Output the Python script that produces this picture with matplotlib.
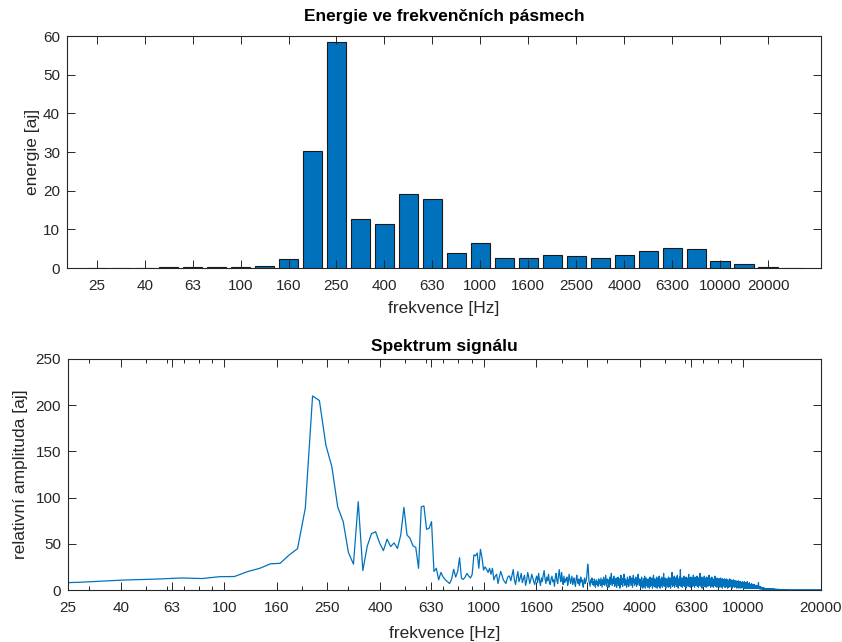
import numpy as np
import matplotlib
matplotlib.use("Agg")
import matplotlib.pyplot as plt
from matplotlib.ticker import FixedLocator, FixedFormatter, LogLocator, NullFormatter

# ---------------- data: energy in 1/3-octave bands ----------------
band_centers = [25, 31.5, 40, 50, 63, 80, 100, 125, 160, 200, 250, 315, 400, 500,
                630, 800, 1000, 1250, 1600, 2000, 2500, 3150, 4000, 5000, 6300,
                8000, 10000, 12500, 16000, 20000]
band_energy = [0.03, 0.05, 0.1, 0.15, 0.2, 0.2, 0.35, 0.6, 2.2, 30.3, 58.4, 12.8,
               11.5, 19.1, 17.8, 3.8, 6.5, 2.6, 2.7, 3.4, 3.2, 2.7, 3.3, 4.3, 5.1,
               4.9, 1.8, 1.0, 0.3, 0.1]
bar_tick_labels = ['25', '40', '63', '100', '160', '250', '400', '630', '1000',
                   '1600', '2500', '4000', '6300', '10000', '20000']

# ---------------- data: spectrum (FFT bins, spacing DF Hz) ----------------
DF = 13.7
spec_peak = [6.0, 8.3, 10.8, 11.8, 13.0, 12.4, 14.4, 14.6, 20.0, 23.4,
             28.3, 28.9, 37.9, 44.7, 88.4, 210, 205, 157, 133, 90,
             74, 40.5, 28, 95.6, 21, 47.6, 61, 63, 51, 42.6,
             55, 47, 51, 45, 59.5, 89.5, 59.5, 56, 48, 46,
             23.5, 90, 91, 65.7, 66.7, 74, 20, 23.5, 11, 19,
             14, 11, 9, 7, 12, 22.4, 14, 20, 35, 12.6,
             11.5, 14, 18, 15, 13, 17, 38, 37, 40, 23.5,
             44, 35, 21.6, 25, 22.4, 19, 23.5, 17, 23.5, 11,
             15, 17, 7, 14, 20, 16, 11, 9, 7, 12, 15]
spec_mid1 = [15, 10, 16, 22, 11, 6, 14, 20, 9, 13,
             18, 8, 12, 16, 5, 10, 19, 14, 7, 11,
             17, 13, 9, 6, 12, 15, 8, 18, 10, 5,
             13, 9, 16, 21, 12, 7, 14, 10, 17, 8,
             6, 12, 15, 9, 11, 4, 14, 18, 10, 7,
             16, 22, 13, 9, 19, 11, 6, 15, 8, 12,
             10, 14, 5, 9, 17, 12, 7, 11, 15, 6,
             9, 13, 8, 4, 11, 16, 10, 7, 12, 5,
             8, 14, 9, 11, 6, 3, 10, 13, 7, 9,
             12, 19, 28, 23, 10, 7, 4, 11, 8, 13,
             6, 9, 5, 12, 10, 3, 8, 11, 6]
spec_mid2 = [9, 4, 12, 7, 10, 5, 13, 8, 3, 11,
             6, 14, 9, 5, 10, 16, 7, 4, 12, 8,
             11, 3, 9, 14, 6, 10, 18, 8, 5, 12,
             7, 15, 9, 4, 11, 6, 13, 3, 10, 8,
             14, 5, 9, 12, 2, 7, 16, 10, 6, 11,
             4, 13, 8, 17, 9, 5, 12, 7, 10, 3,
             11, 14, 6, 9, 4, 12, 8, 15, 10, 5,
             9, 13, 7, 3, 11, 16, 8, 10, 5, 12,
             7, 14, 9, 4, 11, 6, 13, 17, 8, 10, 5, 12]
spec_high = [6, 11, 3, 8, 14, 5, 9, 2, 7, 12,
             4, 10, 15, 7, 2, 9, 13, 5, 8, 11,
             3, 7, 12, 6, 10, 2, 8, 14, 4, 9,
             11, 5, 7, 13, 2, 10, 6, 16, 8, 4,
             9, 12, 3, 7, 11, 5, 14, 8, 2, 10,
             6, 13, 9, 4, 15, 7, 11, 2, 8, 12,
             5, 10, 14, 7, 3, 9, 12, 6, 18, 8,
             4, 11, 7, 13, 9, 2, 10, 12, 5, 8,
             12, 6, 9, 3, 14, 8, 11, 4, 7, 13,
             10, 2, 8, 13, 6, 11, 19, 7, 4, 9,
             13, 5, 10, 8, 15, 3, 9, 12, 6, 11,
             7, 14, 4, 10, 8, 16, 6, 11, 2, 9,
             12, 8, 5, 14, 10, 7, 22, 9, 4, 13,
             6, 11, 8, 3, 13, 10, 7, 12, 5, 15,
             9, 4, 11, 8, 13, 6, 10, 2, 14, 8,
             11, 7, 13, 5, 9, 12, 4, 10, 17, 7,
             8, 13, 6, 10, 3, 12, 9, 14, 5, 11,
             7, 10, 13, 4, 8, 11, 6, 16, 9, 5,
             12, 8, 3, 10, 14, 7, 11, 5, 9, 13,
             6, 10, 8, 15, 4, 12, 7, 9, 13, 3,
             10, 7, 13, 5, 11, 9, 18, 6, 8, 12,
             4, 9, 11, 7, 14, 2, 10, 8, 13, 6,
             11, 5, 9, 12, 7, 15, 8, 4, 10, 13,
             7, 12, 6, 9, 3, 11, 14, 8, 5, 10,
             13, 8, 4, 10, 7, 12, 9, 16, 6, 11,
             5, 9, 13, 7, 11, 3, 10, 8, 12, 6,
             10, 14, 7, 4, 9, 12, 6, 11, 8, 3,
             9, 7, 12, 10, 5, 8, 15, 6, 11, 7,
             4, 11, 8, 12, 6, 9, 3, 13, 7, 10,
             8, 5, 10, 7, 12, 4, 9, 11, 6, 12,
             7, 10, 3, 9, 6, 13, 8, 5, 11, 7,
             9, 4, 12, 7, 10, 2, 8, 12, 6, 9,
             5, 11, 7, 9, 4, 10, 6, 12, 3, 8,
             10, 6, 8, 3, 11, 7, 9, 5, 12, 7,
             4, 9, 6, 10, 2, 8, 11, 5, 7, 9,
             8, 3, 10, 6, 9, 4, 12, 7, 5, 10,
             6, 9, 4, 8, 11, 3, 7, 10, 5, 8,
             7, 2, 9, 6, 10, 4, 8, 5, 11, 6,
             9, 5, 7, 3, 8, 10, 4, 7, 6, 9,
             4, 8, 6, 10, 3, 7, 9, 5, 8, 2,
             7, 5, 9, 4, 8, 6, 3, 10, 5, 7,
             6, 8, 2, 7, 5, 9, 4, 6, 8, 3,
             5, 7, 9, 4, 6, 2, 8, 5, 7, 4,
             6, 3, 8, 5, 9, 4, 7, 3]
spec_roll = [5, 2, 7, 4, 8, 3, 6, 2, 5, 9,
             3, 6, 2, 8, 4, 5, 2, 7, 3, 5,
             6, 2, 4, 7, 2, 5, 3, 9, 4, 2,
             5, 3, 6, 2, 4, 7, 2, 5, 3, 6,
             2, 4, 8, 3, 5, 2, 6, 4, 2, 5,
             3, 6, 2, 4, 2, 5, 3, 7, 2, 4,
             5, 2, 3, 6, 2, 4, 3, 2, 5, 2,
             4, 2, 5, 2, 3, 6, 2, 4, 2, 3,
             2, 4, 2, 5, 3, 2, 4, 2, 3, 5,
             2, 3, 2, 4, 2, 3, 5, 2, 2, 3,
             2, 2, 4, 2, 3, 2, 2, 8, 2, 3,
             3, 1.5, 2.5, 1.5, 3, 2, 1.5, 4, 2, 1.5,
             2.5, 1.5, 3, 1.5, 2, 1.2, 2.5, 1.5, 3, 1.5,
             1.5, 2.5, 1.2, 2, 2.5, 1.5, 1.2, 2.5, 1.5, 2,
             1.2, 1.5, 2.5, 1.2, 1.5, 2, 1.2, 1.5, 1, 2,
             1.5, 1.2, 1.5, 1, 2, 1.2, 1.5, 1, 1.2, 1.5,
             1, 1.5, 1.2, 1, 1.5, 1.2, 1, 1.2, 1.5, 1,
             1.2, 1, 1.5, 1, 1.2, 1, 1.2, 1, 1, 1.3,
             1, 1.2, 0.9, 1, 1.2, 0.8, 1.1, 0.9, 1.2, 0.9,
             1, 0.8, 1.1, 0.9, 1, 0.7, 1, 0.9, 0.8, 1,
             0.8, 1, 0.7, 0.9, 0.8, 1, 0.7, 0.9, 0.8, 0.7,
             0.9, 0.7, 0.8, 0.6, 0.9, 0.7, 0.8, 0.6, 0.7, 0.8]
spec_tail1 = [0.9, 0.7, 0.8, 0.6, 0.9, 0.7, 0.8, 0.6, 0.7, 0.8,
              0.6, 0.8, 0.7, 0.6, 0.8, 0.5, 0.7, 0.6, 0.8, 0.6,
              0.7, 0.5, 0.6, 0.7, 0.5, 0.6, 0.7, 0.5, 0.6, 0.5,
              0.6, 0.5, 0.7, 0.5, 0.6, 0.4, 0.6, 0.5, 0.6, 0.5,
              0.5, 0.6, 0.4, 0.5, 0.6, 0.5, 0.4, 0.6, 0.5, 0.4,
              0.5, 0.4, 0.6, 0.5, 0.4, 0.5, 0.4, 0.5, 0.6, 0.4,
              0.5, 0.4, 0.5, 0.4, 0.5, 0.3, 0.5, 0.4, 0.5, 0.4,
              0.4, 0.5, 0.4, 0.3, 0.5, 0.4, 0.4, 0.5, 0.3, 0.4,
              0.4, 0.3, 0.4, 0.5, 0.4, 0.3, 0.4, 0.4, 0.3, 0.4,
              0.3, 0.4, 0.4, 0.3, 0.4, 0.3, 0.4, 0.3, 0.4, 0.3,
              0.4, 0.3, 0.3, 0.4, 0.3, 0.4, 0.3, 0.3, 0.4, 0.3,
              0.3, 0.4, 0.3, 0.3, 0.4, 0.3, 0.3, 0.4, 0.3, 0.3,
              0.4, 0.3, 0.3, 0.4, 0.3, 0.3, 0.4, 0.3, 0.3, 0.4,
              0.3, 0.3, 0.4, 0.3, 0.3, 0.3, 0.4, 0.3, 0.3, 0.3,
              0.3, 0.4, 0.3, 0.3, 0.3, 0.4, 0.3, 0.3, 0.3, 0.3,
              0.3, 0.3, 0.3, 0.4, 0.3, 0.3, 0.3, 0.3, 0.4, 0.3,
              0.3, 0.3, 0.3, 0.3, 0.4, 0.3, 0.3, 0.3, 0.3, 0.3,
              0.4, 0.3, 0.3, 0.3, 0.3, 0.3, 0.3, 0.4, 0.3, 0.3,
              0.3, 0.3, 0.3, 0.3, 0.3, 0.4, 0.3, 0.3, 0.3, 0.3,
              0.3, 0.3, 0.4, 0.3, 0.3, 0.3, 0.3, 0.3, 0.3, 0.3,
              0.3, 0.3, 0.3, 0.3, 0.3, 0.3, 0.4, 0.3, 0.3, 0.3,
              0.3, 0.3, 0.3, 0.3, 0.3, 0.3, 0.3, 0.3, 0.3, 0.3]
spec_tail2 = [0.3, 0.3, 0.3, 0.3, 0.3, 0.3, 0.3, 0.3, 0.3, 0.3,
              0.3, 0.3, 0.3, 0.3, 0.3, 0.3, 0.3, 0.3, 0.3, 0.3,
              0.3, 0.3, 0.3, 0.3, 0.3, 0.3, 0.3, 0.3, 0.3, 0.3,
              0.3, 0.3, 0.3, 0.3, 0.3, 0.3, 0.3, 0.3, 0.3, 0.3,
              0.3, 0.3, 0.3, 0.3, 0.3, 0.3, 0.3, 0.3, 0.3, 0.3,
              0.3, 0.3, 0.3, 0.3, 0.3, 0.3, 0.3, 0.3, 0.3, 0.3,
              0.3, 0.3, 0.3, 0.3, 0.3, 0.3, 0.3, 0.3, 0.3, 0.3,
              0.3, 0.3, 0.3, 0.3, 0.3, 0.3, 0.3, 0.3, 0.3, 0.3,
              0.3, 0.3, 0.3, 0.3, 0.3, 0.3, 0.3, 0.3, 0.3, 0.3,
              0.3, 0.3, 0.3, 0.3, 0.3, 0.3, 0.3, 0.3, 0.3, 0.3,
              0.3, 0.3, 0.3, 0.3, 0.3, 0.3, 0.3, 0.3, 0.3, 0.3,
              0.3, 0.3, 0.3, 0.3, 0.3, 0.3, 0.3, 0.3, 0.3, 0.3,
              0.3, 0.3, 0.3, 0.3, 0.3, 0.3, 0.3, 0.3, 0.3, 0.3,
              0.3, 0.3, 0.3, 0.3, 0.3, 0.3, 0.3, 0.3, 0.3, 0.3,
              0.3, 0.3, 0.3, 0.3, 0.3, 0.3, 0.3, 0.3, 0.3, 0.3,
              0.3, 0.3, 0.3, 0.3, 0.3, 0.3, 0.3, 0.3, 0.3, 0.3,
              0.3, 0.3, 0.3, 0.3, 0.3, 0.3, 0.3, 0.3, 0.3, 0.3,
              0.3, 0.3, 0.3, 0.3, 0.3, 0.3, 0.3, 0.3, 0.3, 0.3,
              0.3, 0.3, 0.3, 0.3, 0.3, 0.3, 0.3, 0.3, 0.3, 0.3,
              0.3, 0.3, 0.3, 0.3, 0.3, 0.3, 0.3, 0.3, 0.3, 0.3,
              0.3, 0.3, 0.3, 0.3, 0.3, 0.3, 0.3, 0.3, 0.3, 0.3,
              0.3, 0.3, 0.3, 0.3, 0.3, 0.3, 0.3, 0.3, 0.3, 0.3,
              0.3, 0.3, 0.3, 0.3, 0.3, 0.3, 0.3, 0.3, 0.3, 0.3,
              0.3, 0.3, 0.3, 0.3, 0.3, 0.3, 0.3, 0.3, 0.3, 0.3,
              0.3, 0.3, 0.3, 0.3, 0.3, 0.3, 0.3, 0.3, 0.3, 0.3,
              0.3, 0.3, 0.3, 0.3, 0.3, 0.3, 0.3, 0.3, 0.3, 0.3,
              0.3, 0.3, 0.3, 0.3, 0.3, 0.3, 0.3, 0.3, 0.3, 0.3,
              0.3, 0.3, 0.3, 0.3, 0.3, 0.3, 0.3, 0.3, 0.3, 0.3,
              0.3, 0.3, 0.3, 0.3, 0.3, 0.3, 0.3, 0.3, 0.3, 0.3]
spec_tick_values = [25, 40, 63, 100, 160, 250, 400, 630, 1000, 1600, 2500, 4000,
                    6300, 10000, 20000]
spec_tick_labels = ['25', '40', '63', '100', '160', '250', '400', '630', '1000',
                    '1600', '2500', '4000', '6300', '10000', '20000']

# ---------------- style ----------------
plt.rcParams['font.family'] = ['Liberation Sans', 'DejaVu Sans']
TXT = '#262626'
BLUE = '#0072BD'
TICK_FS = 11
LAB_FS = 12.5

fig = plt.figure(figsize=(8.42, 6.42), dpi=100)
W, H = 842.0, 642.0
ax1 = fig.add_axes([67 / W, 1 - 268 / H, (821 - 67) / W, (268 - 36) / H])
ax2 = fig.add_axes([68 / W, 1 - 590 / H, (821 - 68) / W, (590 - 359) / H])

for ax in (ax1, ax2):
    for sp in ax.spines.values():
        sp.set_color(TXT)
        sp.set_linewidth(0.8)
    ax.tick_params(which='both', direction='in', top=True, right=True,
                   colors=TXT, labelsize=TICK_FS, width=0.7)
    ax.tick_params(which='major', length=5.5)
    ax.tick_params(which='minor', length=3)
    ax.tick_params(axis='x', which='both', pad=8)
    ax.tick_params(axis='y', which='both', pad=5)

# --- top: band energies ---
pos = np.arange(1, len(band_energy) + 1)
ax1.bar(pos, band_energy, width=0.8, color=BLUE, edgecolor='#1a1a1a',
        linewidth=0.8, zorder=1)
ax1.set_xlim(-0.24, 31.21)
ax1.set_ylim(0, 60)
ax1.set_yticks(np.arange(0, 61, 10))
ax1.set_xticks(pos[::2])
ax1.set_xticklabels(bar_tick_labels)
ax1.set_title('Energie ve frekvenčních pásmech', fontsize=LAB_FS,
              fontweight='bold', color='black', pad=10.5)
ax1.set_xlabel('frekvence [Hz]', fontsize=LAB_FS, color=TXT, labelpad=5.5)
ax1.set_ylabel('energie [aj]', fontsize=LAB_FS, color=TXT, labelpad=2)

# --- bottom: spectrum ---
spec = np.array(spec_peak + spec_mid1 + spec_mid2 + spec_high + spec_roll +
                spec_tail1 + spec_tail2, dtype=float)
freqs = DF * np.arange(1, len(spec) + 1)
ax2.plot(freqs, spec, color=BLUE, linewidth=0.9)
ax2.set_xscale('log')
ax2.set_xlim(25, 20000)
ax2.set_ylim(0, 250)
ax2.set_yticks(np.arange(0, 251, 50))
ax2.xaxis.set_major_locator(FixedLocator(spec_tick_values))
ax2.xaxis.set_major_formatter(FixedFormatter(spec_tick_labels))
ax2.xaxis.set_minor_locator(LogLocator(base=10, subs=np.arange(2, 10), numticks=50))
ax2.xaxis.set_minor_formatter(NullFormatter())
ax2.set_title('Spektrum signálu', fontsize=LAB_FS, fontweight='bold',
              color='black', pad=5.5)
ax2.set_xlabel('frekvence [Hz]', fontsize=LAB_FS, color=TXT, labelpad=8)
ax2.set_ylabel('relativní amplituda [aj]', fontsize=LAB_FS, color=TXT, labelpad=5.5)

fig.savefig('out.png', dpi=100, facecolor='white')
